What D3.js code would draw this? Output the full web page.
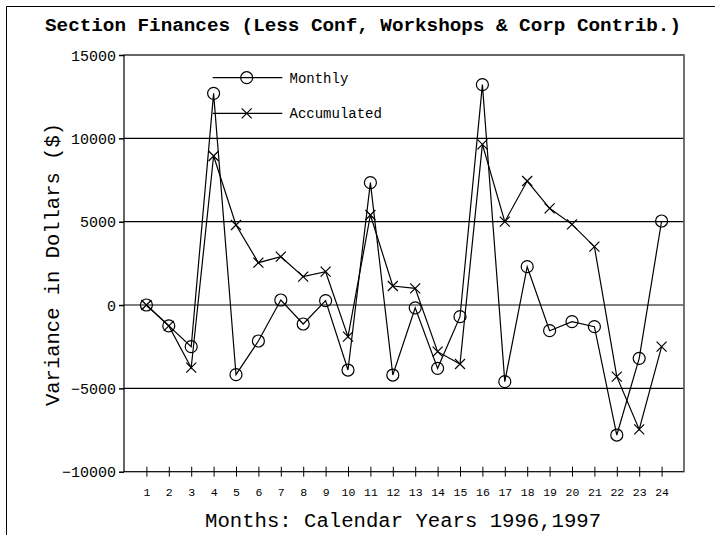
<!DOCTYPE html>
<html>
<head>
<meta charset="utf-8">
<script src="https://cdn.jsdelivr.net/npm/d3@7"></script>
<style>
  body { margin: 0; background: #fff; }
  svg text { font-family: "Liberation Mono", "DejaVu Sans Mono", monospace; fill: #000; }
</style>
</head>
<body>
<svg id="chart" width="715" height="535"></svg>
<script>
// chart data
var months = d3.range(1, 25);
var monthly = [0, -1250, -2500, 12700, -4180, -2160, 300, -1140, 260, -3900, 7340, -4200,
               -170, -3800, -700, 13220, -4600, 2300, -1540, -1000, -1300, -7800, -3200, 5040];
var accumulated = [0, -1250, -3760, 8940, 4800, 2540, 2900, 1700, 2000, -1900, 5400, 1140,
                   1000, -2800, -3540, 9640, 5000, 7440, 5800, 4840, 3500, -4300, -7460, -2500];
var yTicks = [-10000, -5000, 0, 5000, 10000, 15000];
var gridVals = [-5000, 0, 5000, 10000];

var svg = d3.select("#chart");

// outer frame (only top and left show in the picture)
svg.append("line").attr("x1", 6.5).attr("x2", 715).attr("y1", 6.5).attr("y2", 6.5)
  .attr("stroke", "#000");
svg.append("line").attr("x1", 6.5).attr("x2", 6.5).attr("y1", 6.5).attr("y2", 535)
  .attr("stroke", "#000");

// plot box (window.top is read-only, so keep these names distinct)
var pLeft = 124, pRight = 684, pTop = 55, pBottom = 471.7;

var x = d3.scaleLinear().domain([0, 25]).range([pLeft, pRight]);
var y = d3.scaleLinear().domain([-10000, 15000]).range([pBottom, pTop]);

// title
svg.append("text")
  .attr("x", 45).attr("y", 31)
  .attr("textLength", 636).attr("lengthAdjust", "spacingAndGlyphs")
  .style("font-size", "19px").style("font-weight", "bold")
  .text("Section Finances (Less Conf, Workshops & Corp Contrib.)");

// gridlines
svg.append("g").selectAll("line")
  .data(gridVals)
  .enter().append("line")
  .attr("x1", pLeft).attr("x2", pRight)
  .attr("y1", function (d) { return y(d); })
  .attr("y2", function (d) { return y(d); })
  .attr("stroke", "#000").attr("stroke-width", 1.2);

// plot frame
svg.append("rect")
  .attr("x", pLeft).attr("y", pTop)
  .attr("width", pRight - pLeft).attr("height", pBottom - pTop)
  .attr("fill", "none").attr("stroke", "#000").attr("stroke-width", 1.2);
svg.append("line").attr("x1", pRight).attr("x2", pRight).attr("y1", pTop).attr("y2", pBottom)
  .attr("stroke", "#777").attr("stroke-width", 1.5);

// y axis
var yAxis = d3.axisLeft(y).tickValues(yTicks).tickSize(5).tickPadding(3)
  .tickFormat(d3.format("d"));
var gy = svg.append("g").attr("transform", "translate(" + pLeft + ",0)").call(yAxis);
gy.select(".domain").remove();
gy.selectAll("line").attr("stroke-width", 1.5);
gy.selectAll("text").style("font-size", "15px").attr("dy", "0.35em");

// x axis, ticks straddle the bottom line
var xAxis = d3.axisBottom(x).tickValues(months).tickSize(0).tickPadding(16)
  .tickFormat(d3.format("d"));
var gx = svg.append("g").attr("transform", "translate(0," + pBottom + ")").call(xAxis);
gx.select(".domain").remove();
gx.selectAll(".tick").append("line")
  .attr("y1", -5).attr("y2", 5).attr("stroke", "#000");
gx.selectAll("text").style("font-size", "11.5px");

// axis titles
svg.append("text")
  .attr("x", 205).attr("y", 527)
  .attr("textLength", 396).attr("lengthAdjust", "spacingAndGlyphs")
  .style("font-size", "20px")
  .text("Months: Calendar Years 1996,1997");

svg.append("text")
  .attr("transform", "translate(59,406) rotate(-90)")
  .attr("textLength", 283).attr("lengthAdjust", "spacingAndGlyphs")
  .style("font-size", "21px")
  .text("Variance in Dollars ($)");

// series lines
var line = d3.line()
  .x(function (d, i) { return x(months[i]); })
  .y(function (d) { return y(d); });

svg.append("path").datum(monthly)
  .attr("d", line).attr("fill", "none").attr("stroke", "#000").attr("stroke-width", 1.2);
svg.append("path").datum(accumulated)
  .attr("d", line).attr("fill", "none").attr("stroke", "#000").attr("stroke-width", 1.2);

// markers
function drawCircle(g, cx, cy) {
  g.append("circle").attr("cx", cx).attr("cy", cy).attr("r", 6)
    .attr("fill", "none").attr("stroke", "#000").attr("stroke-width", 1.2);
}
function drawCross(g, cx, cy) {
  var s = 5;
  g.append("path")
    .attr("d", "M" + (cx - s) + "," + (cy - s) + "L" + (cx + s) + "," + (cy + s) +
               "M" + (cx - s) + "," + (cy + s) + "L" + (cx + s) + "," + (cy - s))
    .attr("stroke", "#000").attr("stroke-width", 1.2);
}

var marks = svg.append("g");
monthly.forEach(function (d, i) { drawCircle(marks, x(months[i]), y(d)); });
accumulated.forEach(function (d, i) { drawCross(marks, x(months[i]), y(d)); });

// legend
var legend = svg.append("g");
[["Monthly", 77.7, drawCircle], ["Accumulated", 113.3, drawCross]].forEach(function (l) {
  legend.append("line").attr("x1", 212.7).attr("x2", 282.3)
    .attr("y1", l[1]).attr("y2", l[1]).attr("stroke", "#000").attr("stroke-width", 1.2);
  l[2](legend, 246.7, l[1]);
  legend.append("text").attr("x", 289.5).attr("y", l[1]).attr("dy", "0.35em")
    .style("font-size", "14px").text(l[0]);
});
</script>
</body>
</html>
